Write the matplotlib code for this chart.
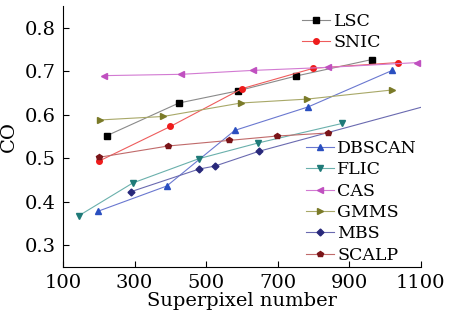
import matplotlib
matplotlib.use("Agg")
import matplotlib.pyplot as plt

# data
lsc_x = [223, 424, 589, 751, 963]
lsc_y = [0.552, 0.627, 0.655, 0.689, 0.727]

snic_x = [200, 400, 600, 800, 1035]
snic_y = [0.493, 0.573, 0.660, 0.707, 0.720]

dbscan_x = [198, 390, 580, 785, 1020]
dbscan_y = [0.378, 0.436, 0.564, 0.618, 0.702]

flic_x = [145, 295, 480, 645, 880]
flic_y = [0.368, 0.443, 0.499, 0.535, 0.580]

cas_x = [215, 430, 630, 840, 1090]
cas_y = [0.690, 0.693, 0.702, 0.709, 0.720]

gmms_x = [203, 380, 597, 782, 1020]
gmms_y = [0.588, 0.596, 0.627, 0.636, 0.657]

mbs_x = [290, 480, 525, 648, 1100]
mbs_y = [0.423, 0.475, 0.482, 0.516, 0.617]

scalp_x = [200, 393, 565, 698, 840]
scalp_y = [0.502, 0.528, 0.541, 0.551, 0.558]

x_ticks = [100, 300, 500, 700, 900, 1100]
y_ticks = [0.3, 0.4, 0.5, 0.6, 0.7, 0.8]

plt.rcParams["font.family"] = ["DejaVu Serif"]

fig = plt.figure(figsize=(4.53, 3.2), dpi=100)
ax = fig.add_axes([0.139, 0.166, 0.79, 0.815])

# (x, y, label, line colour, marker colour, marker)
series = [
    (lsc_x, lsc_y, "LSC", "#8a8a8a", "#000000", "s"),
    (snic_x, snic_y, "SNIC", "#ee5c5c", "#ee1c1c", "o"),
    (dbscan_x, dbscan_y, "DBSCAN", "#6a78d0", "#2a4fc0", "^"),
    (flic_x, flic_y, "FLIC", "#6ab0ac", "#1f7a78", "v"),
    (cas_x, cas_y, "CAS", "#d27ad2", "#c050c0", "<"),
    (gmms_x, gmms_y, "GMMS", "#a8a868", "#7a7a28", ">"),
    (mbs_x, mbs_y, "MBS", "#6a6ab0", "#28287a", "D"),
    (scalp_x, scalp_y, "SCALP", "#c06a6a", "#7a1418", "p"),
]

lines = []
for xs, ys, label, lc, mc, mk in series:
    ms = 4.5 if mk in "^v<>" else 4
    if mk == "D":
        ms = 3.5
    every = [0, 1, 2, 3] if label == "MBS" else None
    (ln,) = ax.plot(xs, ys, color=lc, lw=0.8, marker=mk, ms=ms,
                    mfc=mc, mec=mc, label=label, markevery=every)
    lines.append(ln)

ax.set_xlim(100, 1100)
ax.set_ylim(0.25, 0.85)
ax.set_xticks(x_ticks)
ax.set_yticks(y_ticks)
ax.set_yticklabels([f"{v:.1f}" for v in y_ticks])

for side in ["top", "right"]:
    ax.spines[side].set_visible(False)
ax.tick_params(direction="in", labelsize=14, length=4, width=0.8, pad=5)
ax.set_xlabel("Superpixel number", fontsize=14, labelpad=0)
ax.set_ylabel("CO", fontsize=14, labelpad=5)

leg1 = ax.legend(handles=lines[:2], loc="upper left", bbox_to_anchor=(0.645, 1.005),
                 frameon=False, fontsize=12.5, handlelength=1.6, handletextpad=0.2,
                 labelspacing=0.2, borderaxespad=0.1)
ax.add_artist(leg1)
ax.legend(handles=lines[2:], loc="upper left", bbox_to_anchor=(0.655, 0.52),
          frameon=False, fontsize=12.5, handlelength=1.6, handletextpad=0.2,
          labelspacing=0.25, borderaxespad=0.1)

fig.savefig("out.png", dpi=100)
